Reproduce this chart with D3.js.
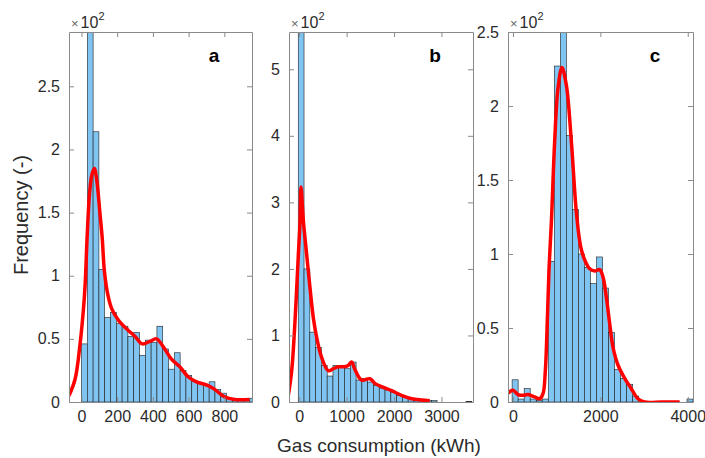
<!DOCTYPE html>
<html>
<head>
<meta charset="utf-8">
<script src="https://cdn.jsdelivr.net/npm/d3@7"></script>
<style>
  body { margin: 0; background: #fff; }
  svg { display: block; font-family: 'Liberation Sans', Arial, sans-serif; }
</style>
</head>
<body>
<svg id="chart" width="705" height="458"></svg>
<script>
// counts per bin, axes show them as x10^2
const aBinStart = 0
const aBinWidth = 32.5
const aCounts = [46, 330, 214, 105, 67, 71, 62, 60, 52, 55, 37, 49, 47, 60, 42, 26, 39, 25, 21, 16, 15, 13, 16, 10, 7, 3, 2, 2, 2, 3]

const bBinStart = -20
const bBinWidth = 122
const bCounts = [600, 200, 105, 82, 55, 39, 55, 52, 50, 60, 33, 35, 30, 25, 21, 18, 14, 10, 8, 5, 4, 3, 2, 2, 0, 0, 0, 0, 0, 1]

const cBinStart = -20
const cBinWidth = 138
const cCounts = [15, 2, 9, 2, 1, 2, 95, 227, 270, 180, 130, 100, 91, 80, 98, 77, 47, 22, 16, 12, 4, 0, 0, 0, 0, 0, 0, 0, 0, 2]

// fitted density (red line)
const aKdeX = [-70, -36, -8, 10, 20, 32, 45, 58, 72, 86, 103, 116, 128, 146, 169, 206, 252, 299, 340, 383, 420, 457, 504, 550, 597, 644, 709, 746, 802, 858, 941]
const aKdeY = [5, 18, 46, 72, 92, 132, 165, 180, 185, 175, 150, 130, 104, 86, 74, 65, 58, 52, 46, 48, 50, 44, 34, 28, 20, 16, 13, 10, 4, 2, 2]

const bKdeX = [-229, -158, -88, -19, 17, 38, 87, 157, 227, 297, 368, 473, 613, 719, 824, 929, 1034, 1105, 1180, 1316, 1490, 1596, 1736, 1947, 2157, 2368, 2578, 2754]
const bKdeY = [10, 47, 122, 220, 270, 323, 273, 222, 172, 127, 97, 67, 47, 50, 53, 53, 55, 60, 48, 33, 35, 28, 23, 17, 10, 5, 3, 2]

const cKdeX = [-114, 0, 114, 229, 343, 497, 611, 687, 740, 786, 824, 878, 954, 1030, 1121, 1222, 1336, 1451, 1549, 1641, 1755, 1870, 1984, 2060, 2136, 2213, 2289, 2403, 2556, 2709, 2860, 3013, 3400, 3814]
const cKdeY = [6, 8, 5, 4.5, 5, 3.4, 2.2, 5.6, 21, 55, 89, 121, 176, 212, 226, 214, 176, 128, 105, 96, 90, 88.5, 89.4, 84.5, 71, 53, 37, 25, 16, 9, 2.2, 0, 0, 0]

// axis limits and ticks
const aXDomain = [-70, 955]
const aXTicks = [0, 200, 400, 600, 800]
const aYMax = 293
const aYTicks = [0, 50, 100, 150, 200, 250]

const bXDomain = [-215, 3665]
const bXTicks = [0, 1000, 2000, 3000]
const bYMax = 556
const bYTicks = [0, 100, 200, 300, 400, 500]

const cXDomain = [-114, 4120]
const cXTicks = [0, 2000, 4000]
const cYMax = 250
const cYTicks = [0, 50, 100, 150, 200, 250]

const panelLabels = ['a', 'b', 'c']
const xTitle = 'Gas consumption (kWh)'
const yTitle = 'Frequency (-)'

let config = {
	top: 32,
	bottom: 402,
	lefts: [69, 289, 508],
	rights: [252, 473, 693],
	barFill: '#80c4f2',
	axisColor: '#8a8a8a',
	textColor: '#2b2b2b',
}

const svg = d3.select('#chart')

function drawPanel(p, i) {
	let x = d3.scaleLinear().domain(p.xDomain).range([config.lefts[i], config.rights[i]])
	let y = d3.scaleLinear().domain([0, p.yMax]).range([config.bottom, config.top])

	svg.append('clipPath').attr('id', 'clip' + i)
		.append('rect')
		.attr('x', config.lefts[i])
		.attr('y', config.top)
		.attr('width', config.rights[i] - config.lefts[i])
		.attr('height', config.bottom - config.top)

	let plot = svg.append('g').attr('clip-path', `url(#clip${i})`)

	let bins = p.counts.map((c, j) => ({
		x0: p.binStart + j * p.binWidth,
		x1: p.binStart + (j + 1) * p.binWidth,
		c: c
	})).filter(d => d.c > 0)

	plot.selectAll('rect')
		.data(bins)
		.join('rect')
		.attr('x', d => x(d.x0))
		.attr('width', d => x(d.x1) - x(d.x0))
		.attr('y', d => y(d.c))
		.attr('height', d => y(0) - y(d.c))
		.attr('fill', config.barFill)
		.attr('stroke', '#1f1f1f')
		.attr('stroke-width', 0.6)

	let line = d3.line()
		.x(d => x(d[0]))
		.y(d => y(d[1]))
		.curve(d3.curveCatmullRom.alpha(0.5))

	plot.append('path')
		.datum(p.kdeX.map((v, j) => [v, p.kdeY[j]]))
		.attr('d', line)
		.attr('fill', 'none')
		.attr('stroke', '#ff0000')
		.attr('stroke-width', 3.5)
		.attr('stroke-linejoin', 'round')

	// box with inward ticks on all four sides
	let fmtY = d => d3.format('~g')(d / 100)
	let axes = [
		[d3.axisBottom(x).tickValues(p.xTicks).tickFormat(d3.format('d')), `translate(0,${config.bottom})`],
		[d3.axisTop(x).tickValues(p.xTicks).tickFormat(''), `translate(0,${config.top})`],
		[d3.axisLeft(y).tickValues(p.yTicks).tickFormat(fmtY), `translate(${config.lefts[i]},0)`],
		[d3.axisRight(y).tickValues(p.yTicks).tickFormat(''), `translate(${config.rights[i]},0)`],
	]
	axes.forEach(([ax, tr]) => {
		let g = svg.append('g')
			.attr('transform', tr)
			.call(ax.tickSizeInner(-5).tickSizeOuter(0).tickPadding(9))
		g.select('.domain').attr('stroke', config.axisColor).attr('stroke-width', 1)
		g.selectAll('.tick line').attr('stroke', config.axisColor)
		g.selectAll('.tick text')
			.attr('fill', config.textColor)
			.style('font-size', '16px')
			.style('font-family', "'Liberation Sans', Arial, sans-serif")
	})

	// x10^2 multiplier
	let exp = svg.append('text')
		.attr('x', config.lefts[i] + 2)
		.attr('y', 28)
		.attr('fill', config.textColor)
	exp.append('tspan').text('\u00d7').style('font-size', '13px').attr('fill', '#666')
	exp.append('tspan').text('10').style('font-size', '16px').attr('dx', 2)
	exp.append('tspan').text('2').style('font-size', '11px').attr('dy', -8)

	svg.append('text')
		.attr('x', config.rights[i] - 38)
		.attr('y', 62)
		.attr('text-anchor', 'middle')
		.attr('font-weight', 'bold')
		.style('font-size', '19px')
		.attr('fill', '#000')
		.text(panelLabels[i])
}

function drawTitles() {
	svg.append('text')
		.attr('x', 379)
		.attr('y', 452)
		.attr('text-anchor', 'middle')
		.style('font-size', '19px')
		.attr('fill', config.textColor)
		.text(xTitle)

	svg.append('text')
		.attr('transform', 'translate(28,215) rotate(-90)')
		.attr('text-anchor', 'middle')
		.style('font-size', '20px')
		.attr('fill', config.textColor)
		.text(yTitle)
}

function app() {
	let panels = [
		{ counts: aCounts, binStart: aBinStart, binWidth: aBinWidth, kdeX: aKdeX, kdeY: aKdeY, xDomain: aXDomain, xTicks: aXTicks, yMax: aYMax, yTicks: aYTicks },
		{ counts: bCounts, binStart: bBinStart, binWidth: bBinWidth, kdeX: bKdeX, kdeY: bKdeY, xDomain: bXDomain, xTicks: bXTicks, yMax: bYMax, yTicks: bYTicks },
		{ counts: cCounts, binStart: cBinStart, binWidth: cBinWidth, kdeX: cKdeX, kdeY: cKdeY, xDomain: cXDomain, xTicks: cXTicks, yMax: cYMax, yTicks: cYTicks },
	]
	panels.forEach(drawPanel)
	drawTitles()
}

app()
</script>
</body>
</html>
